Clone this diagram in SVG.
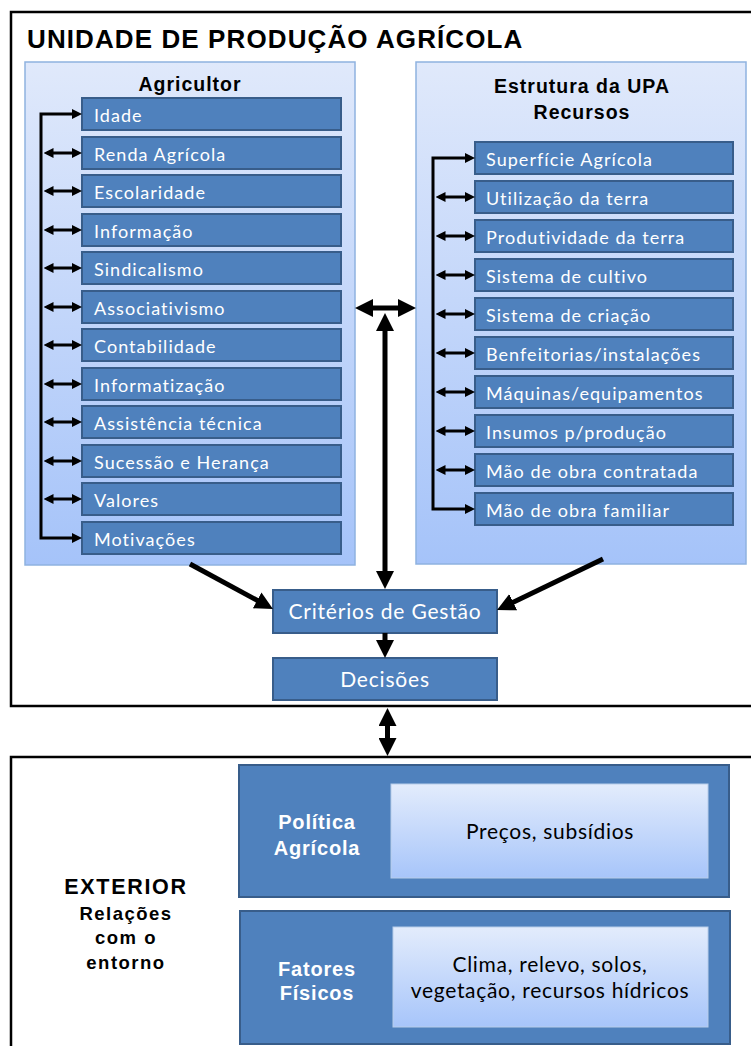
<svg xmlns="http://www.w3.org/2000/svg" width="751" height="1046" viewBox="0 0 751 1046">
  <defs>
    <linearGradient id="panelFill" x1="0" y1="0" x2="0" y2="1">
      <stop offset="0" stop-color="#e0e9fb"/>
      <stop offset="1" stop-color="#a5c3f9"/>
    </linearGradient>
    <linearGradient id="innerFill" x1="0" y1="0" x2="0" y2="1">
      <stop offset="0" stop-color="#e3ecfc"/>
      <stop offset="1" stop-color="#a7c5fa"/>
    </linearGradient>
    <marker id="headBig" viewBox="0 0 18 18" markerUnits="userSpaceOnUse" markerWidth="18" markerHeight="18" refX="8" refY="9" orient="auto-start-reverse">
      <path d="M0,0 L18,9 L0,18 z" fill="#000"/>
    </marker>
    <marker id="headSmall" viewBox="0 0 10 10" markerUnits="userSpaceOnUse" markerWidth="10" markerHeight="10" refX="6" refY="5" orient="auto-start-reverse">
      <path d="M0,0 L10,5 L0,10 z" fill="#000"/>
    </marker>
  </defs>
  <style>
    .frame { fill: none; stroke: #000; stroke-width: 2.5; }
    .panel { fill: url(#panelFill); stroke: #8fb2e0; stroke-width: 1.5; }
    .item { fill: #4f81bd; stroke: #385d8a; stroke-width: 2; }
    .inner { fill: url(#innerFill); stroke: #b8cdea; stroke-width: 1; }
    .itemText { font-family: Lato, "Open Sans", sans-serif; font-size: 18px; letter-spacing: 1.05px; fill: #fff; }
    .bigText { font-family: Lato, "Open Sans", sans-serif; font-size: 21px; letter-spacing: 0.8px; fill: #fff; text-anchor: middle; }
    .innerText { font-family: Lato, "Open Sans", sans-serif; font-size: 21px; letter-spacing: 0.7px; fill: #000; text-anchor: middle; }
    .head { font-family: "Liberation Sans", Arial, sans-serif; font-weight: bold; fill: #000; text-anchor: middle; }
    .boxHead { font-family: "Liberation Sans", Arial, sans-serif; font-weight: bold; font-size: 20px; letter-spacing: 0.8px; fill: #fff; text-anchor: middle; }
    .conn { fill: none; stroke: #000; }
    .thin { stroke-width: 3; }
    .thick { stroke-width: 5; }
  </style>

  <!-- farm unit frame -->
  <g id="upa">
    <rect class="frame" x="11" y="12" width="760" height="694"/>
    <text class="head" x="27" y="48" font-size="26" letter-spacing="1.1" style="text-anchor:start">UNIDADE DE PRODUÇÃO AGRÍCOLA</text>
  </g>

  <!-- farmer panel -->
  <g id="agricultor">
    <rect class="panel" x="25" y="62" width="330" height="503"/>
    <text class="head" x="190" y="91" font-size="19.5" letter-spacing="1">Agricultor</text>
  </g>
  <g id="agricultor-itens">
    <g id="idade"><rect class="item" x="82" y="98" width="259" height="32"/><text class="itemText" x="94" y="122">Idade</text></g>
    <g id="renda"><rect class="item" x="82" y="137" width="259" height="32"/><text class="itemText" x="94" y="161">Renda Agrícola</text></g>
    <g id="escolaridade"><rect class="item" x="82" y="175" width="259" height="32"/><text class="itemText" x="94" y="199">Escolaridade</text></g>
    <g id="informacao"><rect class="item" x="82" y="214" width="259" height="32"/><text class="itemText" x="94" y="238">Informação</text></g>
    <g id="sindicalismo"><rect class="item" x="82" y="252" width="259" height="32"/><text class="itemText" x="94" y="276">Sindicalismo</text></g>
    <g id="associativismo"><rect class="item" x="82" y="291" width="259" height="32"/><text class="itemText" x="94" y="315">Associativismo</text></g>
    <g id="contabilidade"><rect class="item" x="82" y="329" width="259" height="32"/><text class="itemText" x="94" y="353">Contabilidade</text></g>
    <g id="informatizacao"><rect class="item" x="82" y="368" width="259" height="32"/><text class="itemText" x="94" y="392">Informatização</text></g>
    <g id="assistencia"><rect class="item" x="82" y="406" width="259" height="32"/><text class="itemText" x="94" y="430">Assistência técnica</text></g>
    <g id="sucessao"><rect class="item" x="82" y="445" width="259" height="32"/><text class="itemText" x="94" y="469">Sucessão e Herança</text></g>
    <g id="valores"><rect class="item" x="82" y="483" width="259" height="32"/><text class="itemText" x="94" y="507">Valores</text></g>
    <g id="motivacoes"><rect class="item" x="82" y="522" width="259" height="32"/><text class="itemText" x="94" y="546">Motivações</text></g>
  </g>

  <!-- farm structure panel -->
  <g id="estrutura">
    <rect class="panel" x="416" y="62" width="330" height="502"/>
    <text class="head" x="582" y="93" font-size="19.5" letter-spacing="1">Estrutura da UPA</text>
    <text class="head" x="582" y="119" font-size="19.5" letter-spacing="1">Recursos</text>
  </g>
  <g id="estrutura-itens">
    <g id="superficie"><rect class="item" x="475" y="142" width="258" height="32"/><text class="itemText" x="486" y="166">Superfície Agrícola</text></g>
    <g id="utilizacao"><rect class="item" x="475" y="181" width="258" height="32"/><text class="itemText" x="486" y="205">Utilização da terra</text></g>
    <g id="produtividade"><rect class="item" x="475" y="220" width="258" height="32"/><text class="itemText" x="486" y="244">Produtividade da terra</text></g>
    <g id="cultivo"><rect class="item" x="475" y="259" width="258" height="32"/><text class="itemText" x="486" y="283">Sistema de cultivo</text></g>
    <g id="criacao"><rect class="item" x="475" y="298" width="258" height="32"/><text class="itemText" x="486" y="322">Sistema de criação</text></g>
    <g id="benfeitorias"><rect class="item" x="475" y="337" width="258" height="32"/><text class="itemText" x="486" y="361">Benfeitorias/instalações</text></g>
    <g id="maquinas"><rect class="item" x="475" y="376" width="258" height="32"/><text class="itemText" x="486" y="400">Máquinas/equipamentos</text></g>
    <g id="insumos"><rect class="item" x="475" y="415" width="258" height="32"/><text class="itemText" x="486" y="439">Insumos p/produção</text></g>
    <g id="contratada"><rect class="item" x="475" y="454" width="258" height="32"/><text class="itemText" x="486" y="478">Mão de obra contratada</text></g>
    <g id="familiar"><rect class="item" x="475" y="493" width="258" height="32"/><text class="itemText" x="486" y="517">Mão de obra familiar</text></g>
  </g>

  <!-- management -->
  <g id="criterios">
    <rect class="item" x="273" y="590" width="224" height="43"/>
    <text class="bigText" x="385" y="619">Critérios de Gestão</text>
  </g>
  <g id="decisoes">
    <rect class="item" x="273" y="658" width="224" height="42"/>
    <text class="bigText" x="385" y="687">Decisões</text>
  </g>

  <!-- surroundings -->
  <g id="exterior">
    <rect class="frame" x="11" y="757" width="760" height="300"/>
    <text class="head" x="126" y="894" font-size="21.5" letter-spacing="1.7">EXTERIOR</text>
    <text class="head" x="126" y="920" font-size="18.5" letter-spacing="1.5">Relações</text>
    <text class="head" x="126" y="944" font-size="18.5" letter-spacing="1.5">com o</text>
    <text class="head" x="126" y="969" font-size="18.5" letter-spacing="1.5">entorno</text>
  </g>
  <g id="politica">
    <rect class="item" x="239" y="765" width="490" height="132"/>
    <text class="boxHead" x="317" y="829">Política</text>
    <text class="boxHead" x="317" y="855">Agrícola</text>
    <rect class="inner" x="391" y="784" width="317" height="94"/>
    <text class="innerText" x="550" y="839">Preços, subsídios</text>
  </g>
  <g id="fatores">
    <rect class="item" x="240" y="911" width="490" height="133"/>
    <text class="boxHead" x="317" y="976">Fatores</text>
    <text class="boxHead" x="317" y="1000">Físicos</text>
    <rect class="inner" x="393" y="927" width="315" height="100"/>
    <text class="innerText" x="550" y="972">Clima, relevo, solos,</text>
    <text class="innerText" x="550" y="998">vegetação, recursos hídricos</text>
  </g>

  <!-- connectors -->
  <g id="connectors">
    <!-- farmer list bracket -->
    <path class="conn thin" d="M78,114 H41 V538 H78" marker-start="url(#headSmall)" marker-end="url(#headSmall)"/>
    <path class="conn thin" d="M47.5,153 H78" marker-start="url(#headSmall)" marker-end="url(#headSmall)"/>
    <path class="conn thin" d="M47.5,191 H78" marker-start="url(#headSmall)" marker-end="url(#headSmall)"/>
    <path class="conn thin" d="M47.5,230 H78" marker-start="url(#headSmall)" marker-end="url(#headSmall)"/>
    <path class="conn thin" d="M47.5,268 H78" marker-start="url(#headSmall)" marker-end="url(#headSmall)"/>
    <path class="conn thin" d="M47.5,307 H78" marker-start="url(#headSmall)" marker-end="url(#headSmall)"/>
    <path class="conn thin" d="M47.5,345 H78" marker-start="url(#headSmall)" marker-end="url(#headSmall)"/>
    <path class="conn thin" d="M47.5,384 H78" marker-start="url(#headSmall)" marker-end="url(#headSmall)"/>
    <path class="conn thin" d="M47.5,422 H78" marker-start="url(#headSmall)" marker-end="url(#headSmall)"/>
    <path class="conn thin" d="M47.5,461 H78" marker-start="url(#headSmall)" marker-end="url(#headSmall)"/>
    <path class="conn thin" d="M47.5,499 H78" marker-start="url(#headSmall)" marker-end="url(#headSmall)"/>
    <!-- structure list bracket -->
    <path class="conn thin" d="M471,158 H433 V509 H471" marker-start="url(#headSmall)" marker-end="url(#headSmall)"/>
    <path class="conn thin" d="M439.5,197 H471" marker-start="url(#headSmall)" marker-end="url(#headSmall)"/>
    <path class="conn thin" d="M439.5,236 H471" marker-start="url(#headSmall)" marker-end="url(#headSmall)"/>
    <path class="conn thin" d="M439.5,275 H471" marker-start="url(#headSmall)" marker-end="url(#headSmall)"/>
    <path class="conn thin" d="M439.5,314 H471" marker-start="url(#headSmall)" marker-end="url(#headSmall)"/>
    <path class="conn thin" d="M439.5,353 H471" marker-start="url(#headSmall)" marker-end="url(#headSmall)"/>
    <path class="conn thin" d="M439.5,392 H471" marker-start="url(#headSmall)" marker-end="url(#headSmall)"/>
    <path class="conn thin" d="M439.5,431 H471" marker-start="url(#headSmall)" marker-end="url(#headSmall)"/>
    <path class="conn thin" d="M439.5,470 H471" marker-start="url(#headSmall)" marker-end="url(#headSmall)"/>
    <!-- between the two panels -->
    <path class="conn thick" d="M365,308 H406" marker-start="url(#headBig)" marker-end="url(#headBig)"/>
    <path class="conn thick" d="M385,323 V579" marker-start="url(#headBig)" marker-end="url(#headBig)"/>
    <!-- panels to criteria -->
    <path class="conn thick" d="M190,564 L264.2,604.2" marker-end="url(#headBig)"/>
    <path class="conn thick" d="M603,559 L506,605.7" marker-end="url(#headBig)"/>
    <!-- criteria to decisions -->
    <path class="conn thick" d="M385,633 V648" marker-end="url(#headBig)"/>
    <!-- decisions to surroundings -->
    <path class="conn thick" d="M387.5,718 V746" marker-start="url(#headBig)" marker-end="url(#headBig)"/>
  </g>
</svg>
